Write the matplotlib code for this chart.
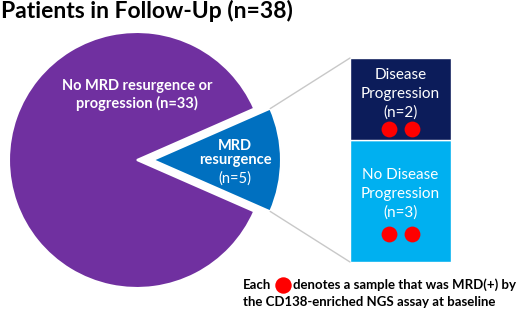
import matplotlib
matplotlib.use("Agg")
import matplotlib.pyplot as plt
from matplotlib.patches import ConnectionPatch
import numpy as np

# ---- data ----
title = "Patients in Follow-Up (n=38)"
pie_labels = ["No MRD resurgence or\nprogression (n=33)", "MRD\nresurgence", "(n=5)"]
pie_values = [33, 5]
bar_labels = ["No Disease\nProgression\n(n=3)", "Disease\nProgression\n(n=2)"]
bar_values = [3, 2]          # bottom segment, top segment
mrd_pos_dots = [2, 2]        # red dots in each bar segment
note_line1 = ["Each", "denotes a sample that was MRD(+) by"]
note_line2 = "the CD138-enriched NGS assay at baseline"

PURPLE = "#7030a0"
BLUE = "#0070c0"
NAVY = "#0c1c5a"
LIGHT = "#00b0f0"
RED = "#ff0000"
FONT = "Lato"

fig = plt.figure(figsize=(5.2, 3.09), dpi=100)
ax = fig.add_axes([0, 0, 1, 1])

# pie geometry (pixel units)
cx, cy, R = 137, 160, 128
explode_frac = 0.125
start = 360 * (pie_values[1] / 2) / sum(pie_values)
wedges, _ = ax.pie(pie_values, colors=[PURPLE, BLUE], startangle=start,
                   center=(cx, cy), radius=R, explode=[0, explode_frac * R],
                   wedgeprops=dict(edgecolor="white", linewidth=1.5),
                   frame=True)
ax.set_xlim(0, 520)
ax.set_ylim(309, 0)
ax.set_aspect("auto")
ax.axis("off")

# text on the pie
ax.text(cx, 95, pie_labels[0], ha="center", va="center", color="white",
        fontsize=10.5, fontweight="bold", family=FONT, linespacing=1.2)
ax.text(235, 153, pie_labels[1], ha="center", va="center", color="white",
        fontsize=10.5, fontweight="bold", family=FONT, linespacing=1.0)
ax.text(235, 179, pie_labels[2], ha="center", va="center", color="white",
        fontsize=10.5, family=FONT)

# title
ax.text(1, 11, title, ha="left", va="center", fontsize=16.5, fontweight="bold",
        family=FONT, color="black")

# bar axes
bx0, bx1, by_top, by_bot = 350, 451, 58, 262
bax = fig.add_axes([bx0 / 520, 1 - by_bot / 309, (bx1 - bx0) / 520,
                    (by_bot - by_top) / 309])
bottoms = np.concatenate([[0], np.cumsum(bar_values)[:-1]])
label_y = [1.67, 4.12]
dot_y = [0.69, 3.26]
for v, b, c, lab, nd, ly, dy in zip(bar_values, bottoms, [LIGHT, NAVY], bar_labels,
                                    mrd_pos_dots, label_y, dot_y):
    bax.bar(0, v, bottom=b, width=1, color=c, edgecolor="white", linewidth=1)
    bax.text(0, ly, lab, ha="center", va="center",
             color="white", fontsize=11, family=FONT, linespacing=1.38)
    xs = (np.arange(nd) - (nd - 1) / 2) * 0.23
    bax.scatter(xs, np.full(nd, dy), s=130, color=RED, zorder=3, linewidths=0)
bax.set_xlim(-0.5, 0.5)
bax.set_ylim(0, sum(bar_values))
bax.axis("off")

# connector lines from exploded wedge to bar corners
w = wedges[1]
th = np.deg2rad([w.theta1, w.theta2])
wc = w.center
r = w.r
for t in th:
    p = (wc[0] + r * np.cos(t), wc[1] + r * np.sin(t))
    con = ConnectionPatch(xyA=p, coordsA=ax.transData,
                          xyB=(-0.5, sum(bar_values) if p[1] < cy else 0),
                          coordsB=bax.transData, color="#c8c8c8", linewidth=1)
    fig.add_artist(con)

# note
ax.text(243, 285, note_line1[0], ha="left", va="center", fontsize=9.5,
        fontweight="bold", family=FONT)
ax.scatter([283], [285], s=140, color=RED, linewidths=0)
ax.text(293, 285, note_line1[1], ha="left", va="center", fontsize=9.5,
        fontweight="bold", family=FONT)
ax.text(243, 302, note_line2, ha="left", va="center", fontsize=9.5,
        fontweight="bold", family=FONT)

fig.savefig("out.png", dpi=100)
